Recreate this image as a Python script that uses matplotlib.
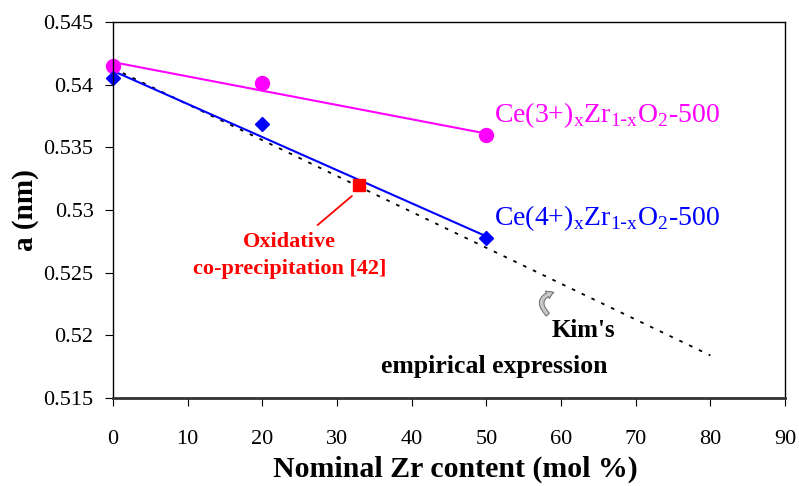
import matplotlib.pyplot as plt

plt.rcParams["font.family"] = ["Liberation Serif", "DejaVu Serif"]

# lattice parameter data
zr_ce3 = [0, 20, 50]
a_ce3 = [0.5415, 0.5401, 0.5360]
fit_ce3_x = [0, 50]
fit_ce3_y = [0.5418, 0.5361]

zr_ce4 = [0, 20, 50]
a_ce4 = [0.5405, 0.5369, 0.5278]
fit_ce4_x = [0, 50]
fit_ce4_y = [0.5411, 0.5279]

zr_oxid = [33]
a_oxid = [0.5320]

kim_x = [0, 80]
kim_y = [0.5413, 0.5184]

fig = plt.figure(figsize=(7.99, 4.86), dpi=100)
ax = fig.add_axes([0.1414, 0.181, 0.8411, 0.7737])

ax.plot(kim_x, kim_y, color="black", linestyle=(0, (2, 4)), linewidth=1.3)
ax.plot(fit_ce3_x, fit_ce3_y, color="#ff00ff", linewidth=1.5)
ax.plot(fit_ce4_x, fit_ce4_y, color="#0000ff", linewidth=1.5)
ax.plot(zr_ce3, a_ce3, "o", color="#ff00ff", markersize=10, clip_on=False)
ax.plot(zr_ce4, a_ce4, "D", color="#0000ff", markersize=7, clip_on=False)
ax.plot(zr_oxid, a_oxid, "s", color="#ff0000", markersize=8)

ax.text(51.0, 0.5364, r"Ce(3+)$_\mathregular{x}$Zr$_\mathregular{1\text{-}x}$O$_\mathregular{2}$-500",
        color="#ff00ff", fontsize=20, va="bottom", ha="left")
ax.text(51.0, 0.5282, r"Ce(4+)$_\mathregular{x}$Zr$_\mathregular{1\text{-}x}$O$_\mathregular{2}$-500",
        color="#0000ff", fontsize=20, va="bottom", ha="left")

# red leader line + label
ax.annotate("", xy=(32.0, 0.53112), xytext=(27.4, 0.5288),
            arrowprops=dict(arrowstyle="-", color="#ff0000", lw=1.3, shrinkA=0, shrinkB=0))
ax.text(23.6, 0.5264, "Oxidative\nco-precipitation [42]", color="#ff0000", fontsize=16,
        fontweight="bold", ha="center", va="center", linespacing=1.45)

ax.text(67.2, 0.5204, "Kim's", fontsize=18, fontweight="bold", ha="right", va="center")
ax.text(51.0, 0.5175, "empirical expression", fontsize=18.5, fontweight="bold", ha="center", va="center")
ax.annotate("", xy=(59.4, 0.5235), xytext=(58.5, 0.5215),
            arrowprops=dict(arrowstyle="simple,head_width=0.6,head_length=0.5,tail_width=0.3",
                            fc="#c8c8c8", ec="#777777", lw=0.8,
                            connectionstyle="arc3,rad=-0.9"))

ax.set_xlim(0, 90)
ax.set_ylim(0.515, 0.545)
ax.set_xticks(range(0, 91, 10))
ax.set_yticks([0.515, 0.52, 0.525, 0.53, 0.535, 0.54, 0.545])
ax.set_yticklabels(["0.515", "0.52", "0.525", "0.53", "0.535", "0.54", "0.545"])
ax.tick_params(axis="x", direction="out", length=6, pad=17, labelsize=16)
ax.tick_params(axis="y", direction="out", length=6, pad=8, labelsize=16)

ax.set_xlabel("Nominal Zr content (mol %)", fontsize=21.5, fontweight="bold", labelpad=5)
ax.xaxis.label.set_x(0.51)
ax.set_ylabel("a (nm)", fontsize=21, fontweight="bold", labelpad=3)

for side in ["top", "right", "left"]:
    ax.spines[side].set_linewidth(1.0)
ax.spines["bottom"].set_linewidth(2.0)
ax.spines["bottom"].set_color("#333333")

fig.savefig("out.png", dpi=100)
